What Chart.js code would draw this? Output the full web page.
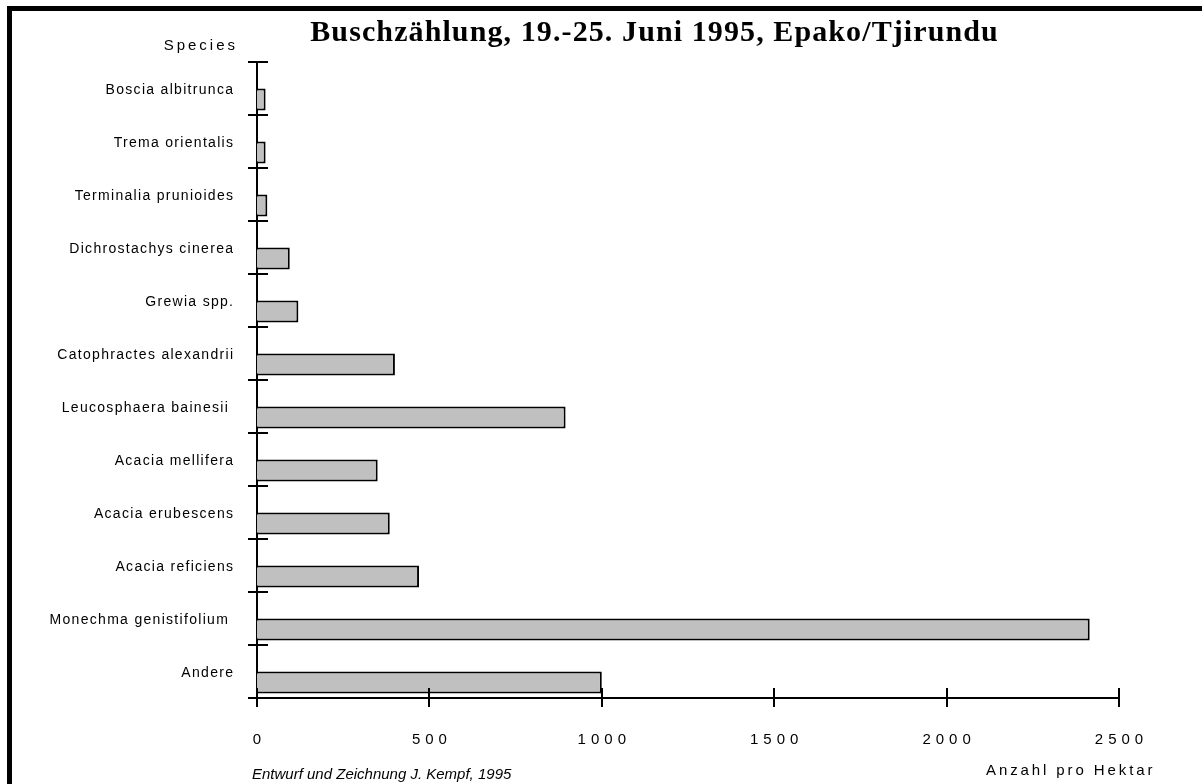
<!DOCTYPE html>
<html>
<head>
<meta charset="utf-8">
<script src="https://cdn.jsdelivr.net/npm/chart.js@4.4.1/dist/chart.umd.min.js"></script>
<style>
  html, body { margin: 0; padding: 0; background: #fff; }
  #wrap { position: relative; width: 1202px; height: 784px; overflow: hidden; }
  #frame { position: absolute; left: 7px; top: 6px; right: -10px; bottom: -10px;
           border-top: 5px solid #000; border-left: 5px solid #000; pointer-events: none; }
  #c { position: absolute; left: 0; top: 0; }
</style>
</head>
<body>
<div id="wrap">
  <canvas id="c" width="1202" height="784"></canvas>
  <div id="frame"></div>
</div>
<script>
// ---- data ----
const titleText = 'Buschzählung, 19.-25. Juni 1995, Epako/Tjirundu';
const yAxisTitle = 'Species';
const xAxisTitle = 'Anzahl pro Hektar';
const footerText = 'Entwurf und Zeichnung J. Kempf, 1995';
const species = [
  'Boscia albitrunca',
  'Trema orientalis',
  'Terminalia prunioides',
  'Dichrostachys cinerea',
  'Grewia spp.',
  'Catophractes alexandrii',
  'Leucosphaera bainesii ',
  'Acacia mellifera',
  'Acacia erubescens',
  'Acacia reficiens',
  'Monechma genistifolium ',
  'Andere'
];
const counts = [25, 25, 30, 95, 120, 400, 895, 350, 385, 470, 2415, 1000];
const spacer = [0, 0, 0, 0, 0, 0, 0, 0, 0, 0, 0, 0];
const xTickLabels = ['0', '500', '1000', '1500', '2000', '2500'];
const xMin = 0, xMax = 2500, xStep = 500;

// ---- styling constants ----
const LS_X = 5, LS_Y = 1.3, LS_TITLE = 1.1;

function patch(obj, m, ls, dx, dy) {
  if (!obj || obj['__p_' + m]) return;
  const orig = obj[m];
  obj[m] = function (...args) {
    const c = this.ctx;
    c.save();
    c.letterSpacing = ls + 'px';
    c.translate(dx, dy || 0);
    orig.apply(this, args);
    c.restore();
  };
  obj['__p_' + m] = true;
}

const spacingPlugin = {
  id: 'spacing',
  beforeDraw(chart) {
    // let the category labels extend left of the narrow axis box (no clipping)
    chart.scales.y._computeLabelArea = () => undefined;
    patch(chart.scales.x, 'drawLabels', LS_X, LS_X / 2, 0);
    patch(chart.scales.y, 'drawLabels', LS_Y, LS_Y, 2);
    patch(chart.titleBlock, 'draw', LS_TITLE, LS_TITLE / 2, 0);
  }
};

const ticksPlugin = {
  id: 'crossTicks',
  afterDraw(chart) {
    const ctx = chart.ctx, x = chart.scales.x, y = chart.scales.y;
    ctx.save();
    ctx.strokeStyle = '#000';
    ctx.lineWidth = 2;
    ctx.beginPath();
    const step = y.getPixelForValue(1) - y.getPixelForValue(0);
    for (let i = 0; i <= species.length; i++) {
      const py = Math.round(y.getPixelForValue(i) - step / 2);
      ctx.moveTo(x.left - 9, py);
      ctx.lineTo(x.left + 11, py);
    }
    x.ticks.forEach(t => {
      const px = Math.round(x.getPixelForValue(t.value));
      ctx.moveTo(px, y.bottom - 10);
      ctx.lineTo(px, y.bottom + 9);
    });
    ctx.stroke();

    const a = chart.chartArea;
    ctx.fillStyle = '#000';
    ctx.textBaseline = 'alphabetic';
    ctx.font = '15px "Liberation Sans", Arial, sans-serif';
    ctx.letterSpacing = '3px';
    ctx.textAlign = 'right';
    ctx.fillText(yAxisTitle, a.left - 19, a.top - 12);
    ctx.letterSpacing = '2.9px';
    ctx.textAlign = 'left';
    ctx.fillText(xAxisTitle, a.right - 133, a.bottom + 77);
    ctx.letterSpacing = '0px';
    ctx.font = 'italic 15px "Liberation Sans", Arial, sans-serif';
    ctx.fillText(footerText, a.left - 5, a.bottom + 81);
    ctx.restore();
  }
};

Chart.defaults.font.family = '"Liberation Sans", Arial, sans-serif';
Chart.defaults.color = '#000';

new Chart(document.getElementById('c'), {
  type: 'bar',
  data: {
    labels: species,
    datasets: [
      { label: 'spacer', data: spacer, backgroundColor: 'rgba(0,0,0,0)', borderWidth: 0 },
      { label: 'Anzahl', data: counts, backgroundColor: '#c0c0c0', borderColor: '#000', borderWidth: 2 }
    ]
  },
  options: {
    indexAxis: 'y',
    responsive: false,
    animation: false,
    events: [],
    categoryPercentage: 0.83,
    barPercentage: 1.0,
    layout: { padding: { left: 189, right: 83, top: 0, bottom: 0 } },
    plugins: {
      legend: { display: false },
      tooltip: { enabled: false },
      title: {
        display: true,
        text: titleText,
        color: '#000',
        font: { family: '"Liberation Serif", "Times New Roman", serif', size: 30, weight: 'bold', lineHeight: 1.2 },
        padding: { top: 15.6, bottom: 10.4 }
      }
    },
    scales: {
      x: {
        type: 'linear',
        min: xMin, max: xMax,
        grid: { display: false, drawTicks: false },
        border: { display: true, color: '#000', width: 2 },
        ticks: {
          stepSize: xStep,
          padding: 33,
          font: { size: 15 },
          color: '#000',
          maxRotation: 0,
          autoSkip: false,
          callback: (v, i) => xTickLabels[i]
        },
        afterFit: s => { s.height = 86; }
      },
      y: {
        type: 'category',
        grid: { display: false, drawTicks: false },
        border: { display: true, color: '#000', width: 2 },
        ticks: { padding: 24, font: { size: 14 }, color: '#000', autoSkip: false },
        afterFit: s => { s.width = 68; }
      }
    }
  },
  plugins: [spacingPlugin, ticksPlugin]
});
</script>
</body>
</html>
